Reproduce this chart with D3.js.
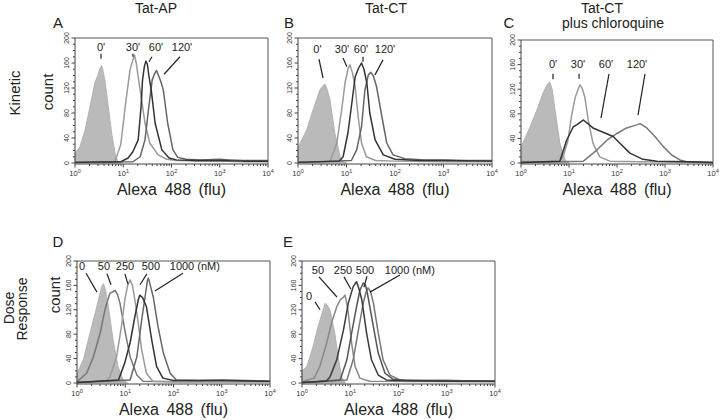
<!DOCTYPE html>
<html><head><meta charset="utf-8">
<script src="https://cdn.jsdelivr.net/npm/d3@7"></script>
<style>
html,body{margin:0;padding:0;background:#fff;}
svg{display:block;font-family:"Liberation Sans",Arial,Helvetica,sans-serif;}
</style></head>
<body>
<svg id="chart" width="720" height="420"></svg>
<script>
// ---------- data (fluorescence, count) ----------
const decadeTicks = [1, 10, 100, 1000, 10000];
const countTicks = [0, 40, 80, 120, 160, 200];

// Panel A: Tat-AP kinetic
const A_0   = [[1,16],[1.26,26],[1.62,53],[2.04,90],[2.57,128],[2.95,140],[3.31,152],[3.55,156],[3.8,148],[4.17,133],[4.9,90],[5.75,48],[6.76,16],[7.59,4],[8.91,0]];
const A_30  = [[1,1],[5.62,1],[6.76,3],[8.91,30],[10.96,90],[13.8,149],[15.85,165],[17,173],[18.6,160],[20.4,138],[24,101],[28.2,64],[35.5,32],[52.5,13],[79.4,6],[126,4],[316,3],[1000,3],[3162,2],[10000,2]];
const A_60  = [[1,1],[8.91,2],[12.6,8],[15.85,18],[20.4,37],[23.4,90],[25.1,133],[27.5,155],[29.5,163],[31.6,158],[33.9,140],[38,117],[45.7,64],[63.1,21],[89.1,8],[126,5],[316,4],[1000,4],[3162,3],[10000,3]];
const A_120 = [[1,1],[15.85,2],[22.4,10],[28.2,37],[33.9,90],[39.8,133],[44.7,143],[49,148],[53.7,140],[60.3,130],[67.6,117],[83.2,64],[107,21],[135,9],[200,6],[398,5],[1000,6],[1585,5],[3162,4],[10000,4]];

// Panel B: Tat-CT kinetic
const B_0   = [[1,25],[1.51,53],[2.04,85],[2.82,117],[3.31,124],[3.63,126],[3.98,118],[4.57,101],[5.75,48],[7.41,10],[8.51,2],[10,0]];
const B_30  = [[1,1],[4.57,2],[6.31,32],[7.94,85],[9.33,128],[10.7,150],[11.75,157],[13.2,145],[15.1,122],[17.4,74],[20.4,32],[25.7,10],[39.8,4],[100,3],[1000,2],[10000,2]];
const B_60  = [[1,1],[7.08,3],[8.51,10],[10.7,48],[12.6,90],[15.1,138],[17.8,152],[20.4,160],[22.9,150],[26.3,128],[30.2,80],[38.9,37],[57.5,13],[100,6],[316,4],[1000,4],[10000,3]];
const B_120 = [[1,1],[12.6,4],[16.2,21],[20.4,58],[24,117],[28.2,141],[31.6,145],[35.5,140],[41.7,122],[53.7,74],[67.6,32],[91.2,13],[158,7],[398,5],[1000,5],[3162,4],[10000,4]];

// Panel C: Tat-CT plus chloroquine
const C_0   = [[1,26],[1.55,59],[2.14,86],[2.88,114],[3.55,128],[3.98,132],[4.47,120],[5.13,86],[6.46,32],[8.32,5],[10,0]];
const C_30  = [[1,1],[6.31,3],[7.59,11],[9.55,37],[11.2,75],[13.5,107],[15.85,122],[17,127],[19.1,120],[21.4,107],[25.1,70],[31.6,32],[43.7,10],[70.8,3],[316,2],[10000,1]];
const C_60  = [[1,1],[6.46,3],[8.91,37],[12.3,59],[14.5,62],[20,70],[31.6,57],[51.3,50],[83.2,43],[115,32],[186,16],[347,6],[676,3],[3162,2],[10000,1]];
const C_120 = [[1,1],[20,3],[38,21],[61.7,37],[100,48],[158,57],[257,62],[302,64],[417,57],[617,43],[912,27],[1380,13],[2042,5],[2818,2],[10000,1]];

// Panel D: Tat-AP dose response (nM)
const D_0    = [[1,16],[1.35,38],[1.86,82],[2.57,125],[3.24,158],[3.55,163],[3.98,150],[4.47,125],[5.62,70],[7.08,27],[9.12,5],[11.2,0]];
const D_50   = [[1,2],[1.58,16],[2.19,43],[3.02,82],[3.8,120],[4.79,147],[5.62,150],[6.17,152],[6.92,145],[7.76,131],[9.77,87],[12.6,43],[17.4,13],[23.4,3],[100,2],[10000,2]];
const D_250  = [[1,1],[3.98,3],[4.79,10],[6.61,43],[8.32,92],[9.77,136],[11.2,160],[12.6,169],[14.1,160],[15.85,136],[18.6,98],[21.9,54],[27.5,16],[37.2,3],[100,2],[10000,2]];
const D_500  = [[1,1],[7.24,5],[9.77,33],[12.6,66],[15.85,109],[18.6,136],[20,144],[22.9,140],[27.5,125],[35.5,70],[44.7,27],[60.3,8],[100,4],[1000,4],[10000,3]];
const D_1000 = [[1,1],[12.6,5],[17.4,43],[21.9,103],[25.7,141],[28.8,168],[30.2,172],[33.1,160],[38,141],[47.9,92],[61.7,49],[85.1,16],[115,5],[316,4],[1000,5],[3162,4],[10000,3]];

// Panel E: Tat-CT dose response (nM)
const E_0    = [[1,20],[1.26,27],[1.7,60],[2.14,92],[2.75,120],[3.02,131],[3.31,128],[3.8,120],[4.79,82],[5.62,43],[6.61,10],[7.94,0]];
const E_50   = [[1,2],[1.78,8],[2.34,27],[3.24,65],[4.07,98],[5.25,125],[6.17,136],[7.08,140],[7.76,144],[8.51,130],[9.12,114],[10.7,65],[12.6,27],[15.85,8],[25.1,3],[10000,2]];
const E_250  = [[1,1],[3.16,3],[3.8,10],[5.25,38],[7.24,87],[9.12,131],[11.5,158],[13.5,166],[15.1,155],[17.4,136],[21.9,81],[27.5,38],[38,13],[56.2,5],[100,4],[1000,3],[10000,3]];
const E_500  = [[1,1],[6.17,5],[8.51,38],[10.7,82],[13.5,125],[15.85,152],[18.6,164],[20.9,160],[23.4,141],[30.2,92],[38,49],[52.5,16],[77.6,6],[158,4],[1000,4],[10000,3]];
const E_1000 = [[1,1],[8.51,5],[11.5,38],[14.8,87],[18.6,131],[21.4,150],[23.4,156],[26.3,150],[30.2,131],[38,82],[47.9,38],[66.1,13],[107,5],[316,4],[1000,4],[10000,3]];

// ---------- drawing ----------
const svg = d3.select("#chart");
const FONT = '"Liberation Sans",Arial,Helvetica,sans-serif';

function panel(cfg) {
  const x = d3.scaleLog().domain([1, 10000]).range([cfg.x0, cfg.x1]);
  const y = d3.scaleLinear().domain([0, 200]).range([cfg.yb, cfg.yt]);
  const g = svg.append("g");

  // frame (top + right)
  g.append("path").attr("d", `M${cfg.x0},${cfg.yt}H${cfg.x1}V${cfg.yb+1}`)
    .attr("fill", "none").attr("stroke", "#555").attr("stroke-width", 1);

  // filled control histogram
  const area = d3.area().x(d => x(d[0])).y0(y(0)).y1(d => y(d[1]));
  g.append("path").datum(cfg.fill).attr("d", area)
    .attr("fill", "#bababa").attr("stroke", "#a9a9a9").attr("stroke-width", 0.8);

  // lines
  const line = d3.line().x(d => x(d[0])).y(d => y(d[1]));
  cfg.series.forEach(s => {
    g.append("path").datum(s.data).attr("d", line)
      .attr("fill", "none").attr("stroke", s.color).attr("stroke-width", 1.5)
      .attr("stroke-linejoin", "round");
  });

  // x axis
  const xa = g.append("g").attr("transform", `translate(0,${cfg.yb+1})`);
  xa.append("line").attr("x1", cfg.x0).attr("x2", cfg.x1).attr("stroke", "#444");
  const minor = [];
  for (let d = 1; d < 10000; d *= 10) for (let m = 1; m < 10; m++) minor.push(d * m);
  minor.push(10000);
  xa.selectAll("line.t").data(minor).join("line").attr("class", "t")
    .attr("x1", d => x(d)).attr("x2", d => x(d)).attr("y1", 0)
    .attr("y2", d => decadeTicks.includes(d) ? 3.5 : 2).attr("stroke", "#444");
  const xl = xa.selectAll("text").data(decadeTicks).join("text")
    .attr("x", d => x(d)).attr("y", 12).attr("text-anchor", "middle")
    .attr("font-size", 7.5).attr("fill", "#333").attr("font-family", FONT);
  xl.append("tspan").text("10");
  xl.append("tspan").attr("dy", -3.5).attr("font-size", 5.5).text(d => Math.round(Math.log10(d)));

  // y axis
  const ya = g.append("g").attr("transform", `translate(${cfg.x0},0)`);
  ya.append("line").attr("y1", cfg.yt).attr("y2", cfg.yb + 1).attr("stroke", "#444");
  const ym = d3.range(0, 201, 10);
  ya.selectAll("line.t").data(ym).join("line").attr("class", "t")
    .attr("x1", 0).attr("x2", d => countTicks.includes(d) ? -3.5 : -2)
    .attr("y1", d => y(d)).attr("y2", d => y(d)).attr("stroke", "#444");
  ya.selectAll("text").data(countTicks).join("text")
    .attr("transform", d => `translate(-6,${y(d)}) rotate(-90)`)
    .attr("text-anchor", "middle").attr("font-size", 7).attr("fill", "#333")
    .attr("font-family", FONT).text(d => d);

  // x axis title
  g.append("text").attr("x", (cfg.x0 + cfg.x1) / 2).attr("y", cfg.yb + 32)
    .attr("text-anchor", "middle").attr("font-size", 16).attr("word-spacing", 3)
    .attr("fill", "#222").attr("font-family", FONT).text("Alexa 488 (flu)");

  // annotations
  cfg.labels.forEach(l => {
    g.append("text").attr("x", x(l[1])).attr("y", y(l[2])).attr("text-anchor", "middle")
      .attr("font-size", 11).attr("fill", "#222").attr("font-family", FONT).text(l[0]);
  });
  cfg.leaders.forEach(l => {
    g.append("line").attr("x1", x(l[0])).attr("y1", y(l[1])).attr("x2", x(l[2])).attr("y2", y(l[3]))
      .attr("stroke", "#222").attr("stroke-width", 1.2);
  });
}

panel({x0:75, x1:268, yt:38, yb:163, fill:A_0,
  series:[{data:A_30,color:"#9a9a9a"},{data:A_120,color:"#666"},{data:A_60,color:"#333"}],
  labels:[["0'",3.46,179],["30'",15.9,179],["60'",47.7,179],["120'",165,179]],
  leaders:[[3.46,175,3.46,167],[15.9,175,15.9,170],[39.4,170,34.2,162],[150,170,70,142]]});

panel({x0:298, x1:492, yt:38, yb:163, fill:B_0,
  series:[{data:B_30,color:"#9a9a9a"},{data:B_120,color:"#666"},{data:B_60,color:"#333"}],
  labels:[["0'",2.52,176],["30'",8.08,176],["60'",19.9,176],["120'",62.2,176]],
  leaders:[[2.71,166,3.28,136],[8.47,168,10.2,154],[21.9,170,21.9,162],[56.6,165,38.7,141]]});

panel({x0:521, x1:713, yt:40, yb:163, fill:C_0,
  series:[{data:C_30,color:"#9a9a9a"},{data:C_120,color:"#777"},{data:C_60,color:"#333"}],
  labels:[["0'",4.64,154],["30'",15.4,154],["60'",59,154],["120'",261,154]],
  leaders:[[4.64,145,4.64,136],[16.2,145,16.2,137],[68.1,145,46.4,73],[383,145,274,78]]});

panel({x0:77, x1:270, yt:261, yb:383, fill:D_0,
  series:[{data:D_50,color:"#777"},{data:D_250,color:"#9a9a9a"},{data:D_1000,color:"#666"},{data:D_500,color:"#333"}],
  labels:[["0",1.27,185],["50",3.62,185],["250",9.86,185],["500",34.0,185],["1000 (nM)",277,185]],
  leaders:[[1.54,180,2.59,149],[4.18,179,5.06,161],[9.86,179,11.4,162],[28.1,179,20.2,161],[157,180,41.2,151]]});

panel({x0:302, x1:495, yt:261, yb:383, fill:E_0,
  series:[{data:E_50,color:"#888"},{data:E_1000,color:"#777"},{data:E_500,color:"#555"},{data:E_250,color:"#3a3a3a"}],
  labels:[["50",2.14,179],["250",7.06,179],["500",20.2,179],["1000 (nM)",172,179],["0",1.40,136]],
  leaders:[[2.25,174,5.3,141],[7.41,174,10.3,154],[22.2,175,19.2,157],[107,177,25.6,149],[1.86,133,2.36,120]]});

// ---------- titles and row labels ----------
function txt(x, y, s, size, rot) {
  const t = svg.append("text").attr("font-size", size).attr("fill", "#222")
    .attr("font-family", FONT).attr("text-anchor", "middle").text(s);
  if (rot) t.attr("transform", `translate(${x},${y}) rotate(-90)`);
  else t.attr("x", x).attr("y", y);
}
txt(156, 13, "Tat-AP", 14);
txt(386, 13, "Tat-CT", 14);
txt(602, 13, "Tat-CT", 14);
txt(613, 28, "plus chloroquine", 14);
txt(58, 28, "A", 15); txt(289, 28, "B", 15); txt(509, 28, "C", 15);
txt(58, 247, "D", 15); txt(288, 247, "E", 15);
txt(20, 93, "Kinetic", 15, true);
txt(53, 92, "count", 15, true);
txt(14, 308, "Dose", 14, true);
txt(27, 309, "Response", 14, true);
txt(60, 295, "count", 15, true);
</script>
</body></html>
